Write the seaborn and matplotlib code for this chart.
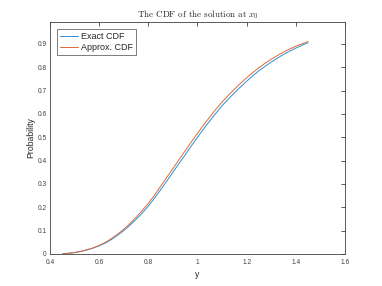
import pandas as pd
import matplotlib
matplotlib.use("Agg")
import matplotlib.pyplot as plt
import seaborn as sns

# CDF values
y_vals = [0.45, 0.475, 0.50, 0.525, 0.55, 0.575, 0.60, 0.625, 0.65, 0.675, 0.70,
          0.725, 0.75, 0.775, 0.80, 0.825, 0.85, 0.875, 0.90, 0.925, 0.95, 0.975,
          1.00, 1.025, 1.05, 1.075, 1.10, 1.125, 1.15, 1.175, 1.20, 1.225, 1.25,
          1.275, 1.30, 1.325, 1.35, 1.375, 1.40, 1.425, 1.45]
exact_cdf = [0.000, 0.003, 0.006, 0.011, 0.017, 0.025, 0.035, 0.047, 0.062, 0.080, 0.100,
             0.123, 0.148, 0.175, 0.205, 0.239, 0.275, 0.312, 0.350, 0.388, 0.425, 0.463,
             0.500, 0.536, 0.570, 0.603, 0.635, 0.663, 0.690, 0.716, 0.740, 0.763, 0.785,
             0.804, 0.822, 0.839, 0.855, 0.869, 0.882, 0.894, 0.905]
approx_cdf = [0.000, 0.003, 0.006, 0.011, 0.018, 0.026, 0.037, 0.050, 0.066, 0.085, 0.106,
              0.130, 0.157, 0.186, 0.217, 0.252, 0.290, 0.328, 0.366, 0.404, 0.442, 0.480,
              0.517, 0.553, 0.587, 0.620, 0.651, 0.679, 0.706, 0.731, 0.755, 0.777, 0.798,
              0.817, 0.834, 0.850, 0.865, 0.878, 0.890, 0.900, 0.910]
series_names = ["Exact CDF", "Approx. CDF"]
x_ticks = [0.4, 0.6, 0.8, 1.0, 1.2, 1.4, 1.6]
x_tick_labels = ["0.4", "0.6", "0.8", "1", "1.2", "1.4", "1.6"]
y_ticks = [0, 0.1, 0.2, 0.3, 0.4, 0.5, 0.6, 0.7, 0.8, 0.9]
y_tick_labels = ["0", "0.1", "0.2", "0.3", "0.4", "0.5", "0.6", "0.7", "0.8", "0.9"]

df = pd.concat([
    pd.DataFrame({"y": y_vals, "p": exact_cdf, "series": series_names[0]}),
    pd.DataFrame({"y": y_vals, "p": approx_cdf, "series": series_names[1]}),
])

sns.set_style("white")
plt.rcParams["font.family"] = ["Liberation Sans", "DejaVu Sans"]
plt.rcParams["mathtext.fontset"] = "cm"

fig = plt.figure(figsize=(3.82, 2.86), dpi=100)
ax = fig.add_axes([0.131, 0.112, 0.772, 0.812])

sns.lineplot(data=df, x="y", y="p", hue="series", ax=ax,
             palette=["#2b8fd6", "#e0683a"], linewidth=0.7)

ax.set_xlim(0.4, 1.6)
ax.set_ylim(0, 0.995)
ax.set_xticks(x_ticks)
ax.set_xticklabels(x_tick_labels)
ax.set_yticks(y_ticks)
ax.set_yticklabels(y_tick_labels)
ax.tick_params(direction="in", length=3, width=0.6, labelsize=4.8,
               colors="#404040", top=True, right=True)
ax.tick_params(axis="x", pad=3.5)
ax.tick_params(axis="y", pad=2.5)
for s in ax.spines.values():
    s.set_color("#404040")
    s.set_linewidth(0.6)

ax.set_xlabel("y", fontsize=6.2, color="#262626", labelpad=3)
ax.set_ylabel("Probability", fontsize=6.2, color="#262626", labelpad=1.5)
ax.set_title("The CDF of the solution at $x_0$", fontsize=6.5, family="cmr10",
             pad=3)

leg = ax.legend(loc="upper left", fontsize=6.5, frameon=True, fancybox=False,
                handlelength=2.0, borderpad=0.35, labelspacing=0.2,
                handletextpad=0.3, borderaxespad=0.8)
leg.get_frame().set_edgecolor("#404040")
leg.get_frame().set_linewidth(0.6)
leg.set_title(None)

fig.savefig("out.png", dpi=100)
